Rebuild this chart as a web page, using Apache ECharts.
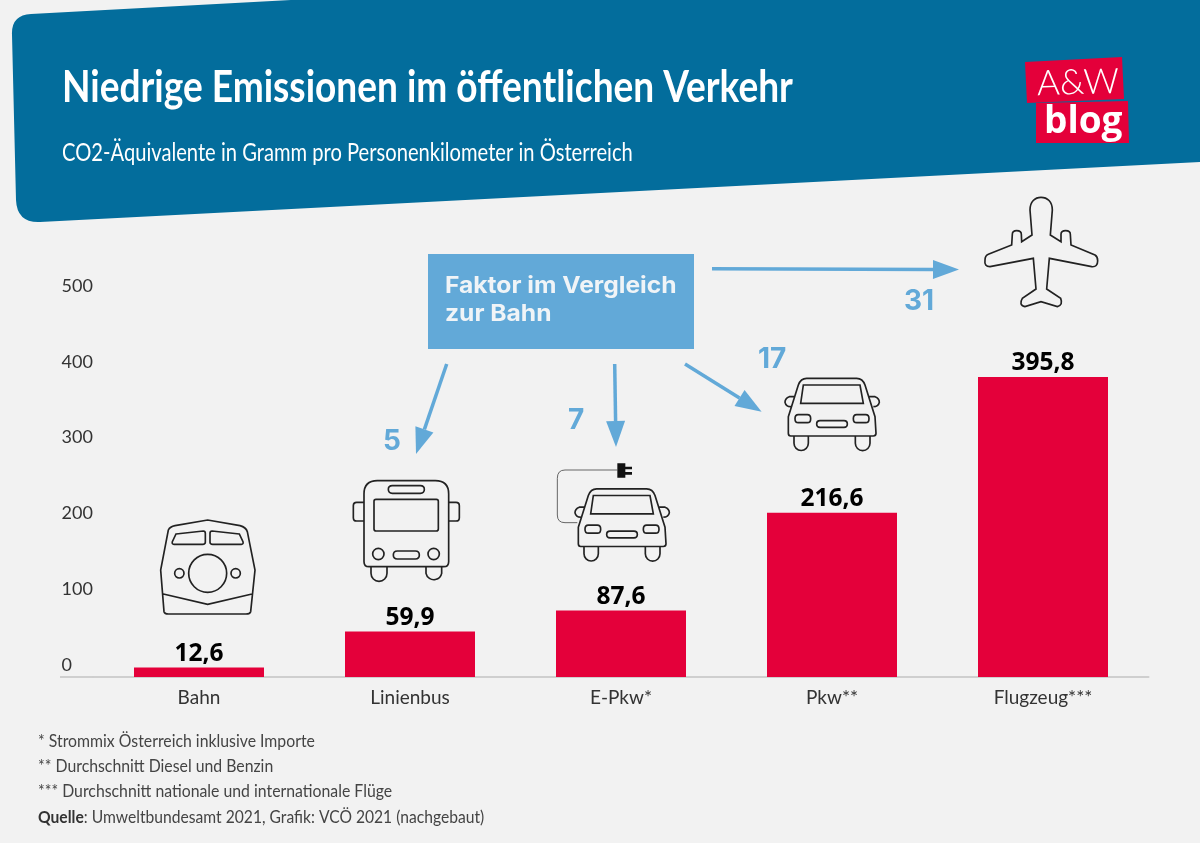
<!DOCTYPE html>
<html>
<head>
<meta charset="utf-8">
<style>
    html, body { margin: 0; padding: 0; background: #f2f2f2; }
    #chart { width: 1200px; height: 843px; }
</style>
<script src="https://cdn.jsdelivr.net/npm/echarts@6/dist/echarts.min.js"></script>
</head>
<body>
<div id="chart"></div>
<script>
const categories = ['Bahn', 'Linienbus', 'E-Pkw*', 'Pkw**', 'Flugzeug***'];
const co2Values = [12.6, 59.9, 87.6, 216.6, 395.8];
const yTicks = [0, 100, 200, 300, 400, 500];
const footnotes = [
    '* Strommix Österreich inklusive Importe',
    '** Durchschnitt Diesel und Benzin',
    '*** Durchschnitt nationale und internationale Flüge',
];

const BLUE = '#62a9d8';
const RED = '#e4003a';
const BODY_FONT = 'Lato, sans-serif';

// icons are written in 3x crop coordinates, drawn with scale 1/3
const trainIcon = 'M85 180Q90 170 105 167L203 150L300 167Q318 172 322 185L345 300L332 425Q330 432 318 432L85 432Q74 432 72 425L62 300Z'
    + 'M108 192L190 183Q196 183 196 190L196 217Q196 223 188 223L102 223Q95 223 97 215Z'
    + 'M298 192L216 183Q210 183 210 190L210 217Q210 223 218 223L304 223Q311 223 309 215Z'
    + 'M260 310A57 57 0 1 1 146 310A57 57 0 1 1 260 310Z'
    + 'M132 310A14 14 0 1 1 104 310A14 14 0 1 1 132 310Z'
    + 'M301 310A14 14 0 1 1 273 310A14 14 0 1 1 301 310Z'
    + 'M70 372L203 403L336 372';
const busIcon = 'M712 32L886 32Q926 32 926 72L926 275Q926 290 911 290L687 290Q672 290 672 275L672 72Q672 32 712 32Z'
    + 'M757 47L841 47Q853 47 853 58Q853 70 841 70L757 70Q745 70 745 58Q745 47 757 47Z'
    + 'M708 88L889 88Q895 88 895 94L895 177Q895 183 889 183L708 183Q702 183 702 177L702 94Q702 88 708 88Z'
    + 'M672 97L650 97Q640 97 640 107L640 143Q640 153 650 153L672 153'
    + 'M926 97L948 97Q958 97 958 107L958 143Q958 153 948 153L926 153'
    + 'M732 252A17 17 0 1 1 698 252A17 17 0 1 1 732 252Z'
    + 'M898 252A17 17 0 1 1 864 252A17 17 0 1 1 898 252Z'
    + 'M772 243L826 243Q838 243 838 255Q838 267 826 267L772 267Q760 267 760 255Q760 243 772 243Z'
    + 'M693 290L693 310A24 24 0 0 0 741 310L741 290'
    + 'M858 290L858 310A24 24 0 0 0 905 310L905 290';
const carIcon = 'M745 140L775 45Q782 25 800 25L950 25Q968 25 975 45L1005 140L1008 190Q1008 198 1000 198L752 198Q745 198 745 190Z'
    + 'M790 45L960 45L970 100L782 100Z'
    + 'M762 80L748 80Q735 85 735 97Q738 110 752 110'
    + 'M988 80L1005 80Q1018 85 1018 97Q1015 110 1000 110'
    + 'M775 134L802 134Q812 134 812 146Q812 158 802 158L775 158Q765 158 765 146Q765 134 775 134Z'
    + 'M950 134L977 134Q987 134 987 146Q987 158 977 158L950 158Q940 158 940 146Q940 134 950 134Z'
    + 'M840 152L912 152Q922 152 922 162Q922 172 912 172L840 172Q830 172 830 162Q830 152 840 152Z'
    + 'M762 198L762 220A21.5 21.5 0 0 0 805 220L805 198'
    + 'M946 198L946 220A21.5 21.5 0 0 0 990 220L990 198';
const planeIcon = 'M210 60C210 35 225 22 243 22C262 22 277 35 277 60L271 135L303 155L303 133Q303 122 317 122Q331 122 331 133L333 165L405 195Q413 200 413 212Q413 232 395 230L268 205L260 297L302 325Q310 345 292 350L243 335L195 350Q175 345 187 325L228 297L220 205L90 230Q72 230 75 210Q75 197 85 193L155 165L157 133Q157 122 170 122Q184 122 184 133L185 155L216 135Z';
const cablePath = 'M232 300L75 300Q52 300 52 325L52 435Q52 458 75 458L112 458';
const plugPath = 'M232 280L256 280L256 290L276 290L276 298L256 298L256 306L276 306L276 314L256 314L256 323L232 323Z';
const headerPath = 'M31 14L1200 -49L1200 162L40 222Q17 223 16 200L12 35Q11 15 31 14Z';

// the graphic component only knows registered shapes, so register the svg paths
const shapes = { trainIcon, busIcon, carIcon, planeIcon, cablePath, plugPath, headerPath };
Object.keys(shapes).forEach(name => {
    echarts.graphic.registerShape(name, echarts.graphic.extendPath(shapes[name], {}));
});

const icon = (type, x, y, extra) => ({
    type,
    x,
    y,
    scaleX: 1 / 3,
    scaleY: 1 / 3,
    style: Object.assign({ fill: 'none', stroke: '#222', lineWidth: 5 }, extra),
});

const arrow = (x1, y1, x2, y2) => {
    const len = Math.hypot(x2 - x1, y2 - y1);
    const ux = (x2 - x1) / len;
    const uy = (y2 - y1) / len;
    const bx = x2 - ux * 26;
    const by = y2 - uy * 26;
    return [
        {
            type: 'line',
            shape: { x1, y1, x2: bx, y2: by },
            style: { stroke: BLUE, lineWidth: 3.5 },
        },
        {
            type: 'polygon',
            shape: {
                points: [
                    [x2, y2],
                    [bx - uy * 9.5, by + ux * 9.5],
                    [bx + uy * 9.5, by - ux * 9.5],
                ],
            },
            style: { fill: BLUE },
        },
    ];
};

// no condensed font is installed, scaleX squeezes Lato to the width of the original
const label = (text, x, y, font, fill, extra) => Object.assign({
    type: 'text',
    x,
    y,
    style: { text, font, fill, textVerticalAlign: 'middle' },
}, extra);

const graphics = [
    // header band
    { type: 'headerPath', style: { fill: '#036d9c' } },
    label('Niedrige Emissionen im öffentlichen Verkehr', 62, 88, `bold 44px ${BODY_FONT}`, '#fff', { scaleX: 0.842 }),
    label('CO2-Äquivalente in Gramm pro Personenkilometer in Österreich', 62, 153, `25px ${BODY_FONT}`, '#fff', { scaleX: 0.806 }),
    // logo
    { type: 'polygon', shape: { points: [[1025, 62], [1122, 57], [1124, 99], [1027, 103]] }, style: { fill: RED } },
    { type: 'polygon', shape: { points: [[1036, 103], [1128, 101], [1129, 143], [1036, 143]] }, style: { fill: RED } },
    label('A&W', 1037, 84, `300 35px ${BODY_FONT}`, '#fff', { rotation: 0.03 }),
    label('blog', 1044, 122, 'bold 37px "Open Sans", sans-serif', '#fff'),
    // factor box
    { type: 'rect', shape: { x: 428, y: 254, width: 266, height: 95 }, style: { fill: BLUE } },
    label('Faktor im Vergleich', 445, 286, 'bold 23px Inter, sans-serif', '#f0f4f7', { scaleX: 1.07 }),
    label('zur Bahn', 445, 314, 'bold 23px Inter, sans-serif', '#f0f4f7', { scaleX: 1.07 }),
    ...arrow(712, 268.7, 959, 269.5),
    ...arrow(446.7, 364, 416, 454),
    ...arrow(614.7, 364, 616, 447),
    ...arrow(685, 364, 761.6, 411.7),
    label('31', 904, 302, 'bold 28px Inter, sans-serif', BLUE),
    label('17', 758, 360, 'bold 28px Inter, sans-serif', BLUE),
    label('7', 568, 421, 'bold 28px Inter, sans-serif', BLUE),
    label('5', 383, 442, 'bold 28px Inter, sans-serif', BLUE),
    // icons
    icon('trainIcon', 140, 470),
    icon('busIcon', 140, 470),
    icon('carIcon', 540, 370),
    icon('carIcon', 330, 480.5),
    icon('cablePath', 540, 370, { stroke: '#666', lineWidth: 3 }),
    icon('plugPath', 540, 370, { fill: '#111', stroke: 'none' }),
    icon('planeIcon', 960, 190),
    // baseline runs on left under the y labels
    { type: 'line', shape: { x1: 60, y1: 677, x2: 94, y2: 677 }, style: { stroke: '#cfcfcf', lineWidth: 2 } },
    // footnotes
    ...footnotes.map((note, i) => label(note, 38, 741.5 + i * 25, `17px ${BODY_FONT}`, '#444', { scaleX: 0.93 })),
    {
        type: 'text',
        x: 38,
        y: 818,
        scaleX: 0.92,
        style: {
            text: '{b|Quelle}: Umweltbundesamt 2021, Grafik: VCÖ 2021 (nachgebaut)',
            font: `17px ${BODY_FONT}`,
            fill: '#444',
            textVerticalAlign: 'middle',
            rich: { b: { font: `bold 17px ${BODY_FONT}`, fill: '#333' } },
        },
    },
];

const options = {
    backgroundColor: '#f2f2f2',
    animation: false,
    grid: { left: 93.5, right: 51.5, top: 298, bottom: 166 },
    xAxis: {
        type: 'category',
        data: categories,
        axisLine: { lineStyle: { color: '#cfcfcf', width: 2 } },
        axisTick: { show: false },
        axisLabel: { color: '#333', fontFamily: 'Lato', fontSize: 19, margin: 11 },
    },
    yAxis: {
        type: 'value',
        min: yTicks[0],
        max: yTicks[yTicks.length - 1],
        interval: yTicks[1] - yTicks[0],
        splitLine: { show: false },
        axisLine: { show: false },
        axisTick: { show: false },
        axisLabel: {
            color: '#333',
            fontFamily: 'Lato',
            fontSize: 18,
            align: 'left',
            margin: 32,
            verticalAlign: 'bottom',
            padding: [0, 0, 3, 0],
        },
    },
    series: [
        {
            type: 'bar',
            data: co2Values,
            barWidth: 130,
            itemStyle: { color: RED },
            label: {
                show: true,
                position: 'top',
                distance: 1,
                color: '#000',
                fontFamily: 'Open Sans',
                fontWeight: 'bold',
                fontSize: 24.5,
                formatter: ({ value }) => value.toFixed(1).replace('.', ','),
            },
        },
    ],
    graphic: graphics,
};

const barChart = echarts.init(document.getElementById('chart'));
barChart.setOption(options);
</script>
</body>
</html>
